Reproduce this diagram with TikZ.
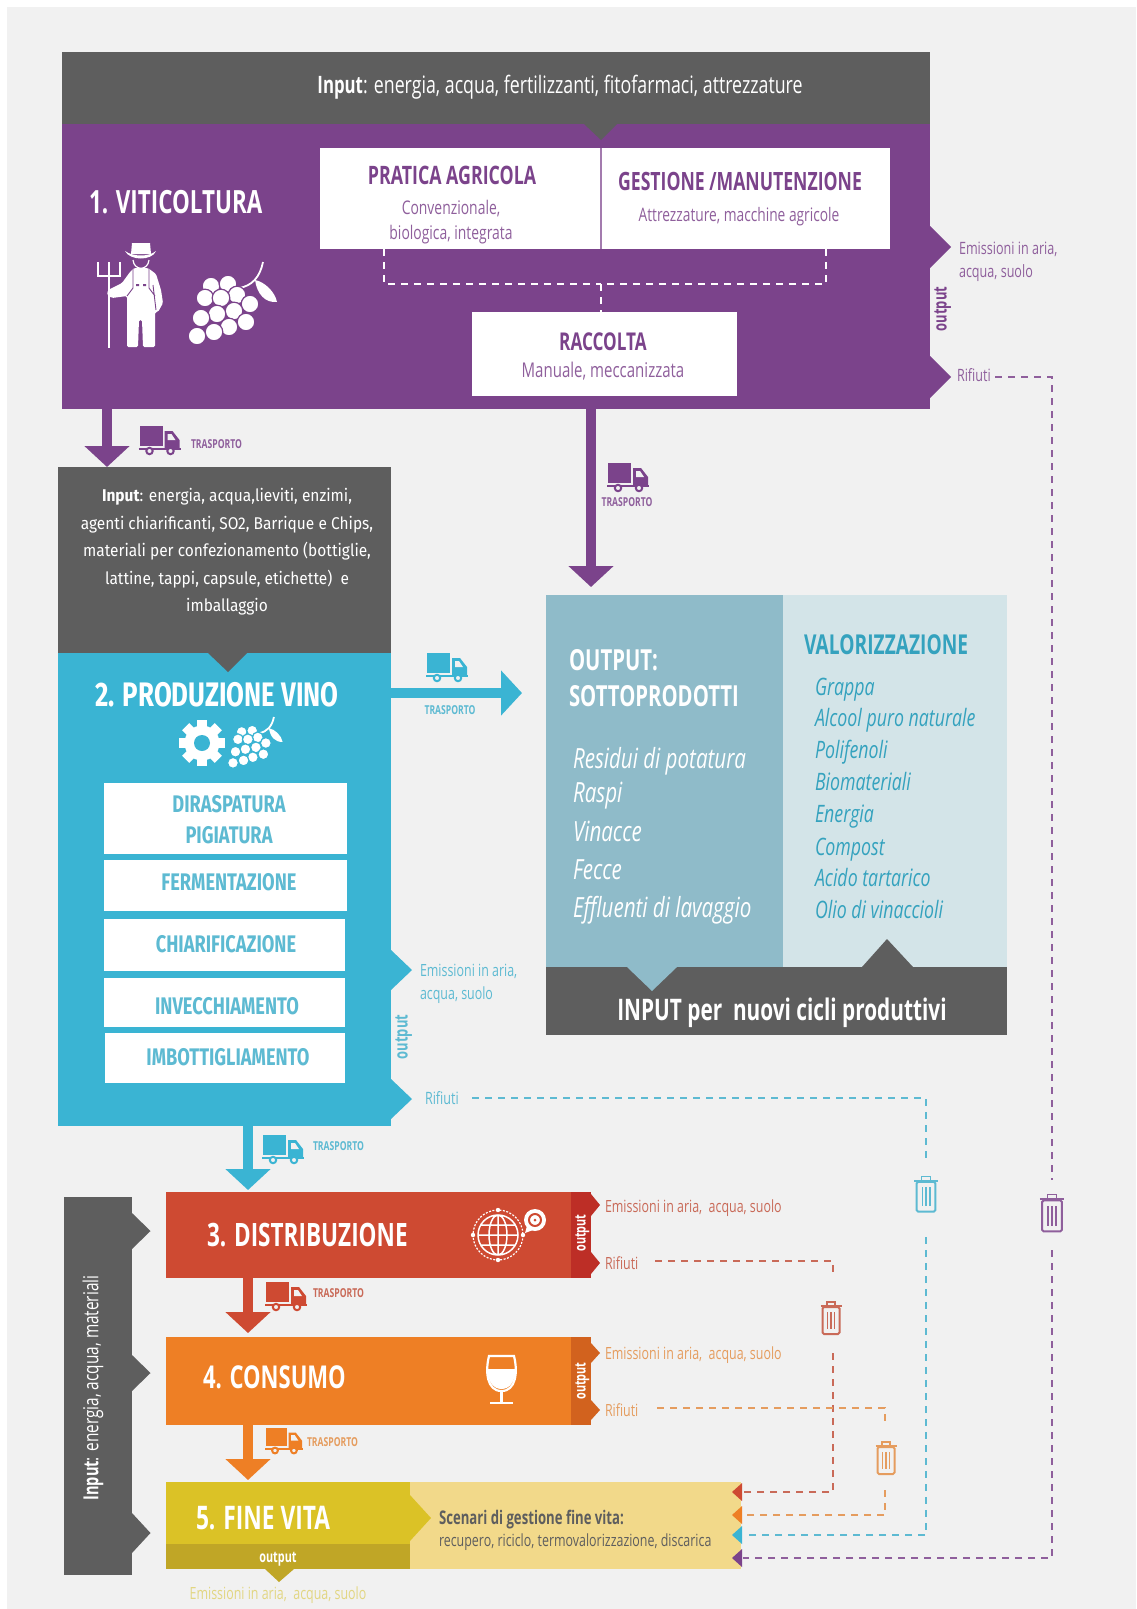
\documentclass[tikz,border=0pt]{standalone}
\usepackage{fontspec}
\usetikzlibrary{arrows.meta}
\setmainfont{Open Sans}[FakeStretch=0.74,BoldFeatures={FakeStretch=0.70}]
\newfontfamily\wfont{Fira Sans}[FakeStretch=0.91]
\newfontfamily\wfontt{Fira Sans}[FakeStretch=0.76]

% 颜色
\definecolor{bgC}{HTML}{F1F1F1}
\definecolor{grayC}{HTML}{5E5E5E}
\definecolor{purpleC}{HTML}{7B438B}
\definecolor{blueC}{HTML}{3AB4D3}
\definecolor{blueT}{HTML}{5DBAD2}
\definecolor{panelA}{HTML}{8FBBC9}
\definecolor{panelB}{HTML}{D3E4E8}
\definecolor{redC}{HTML}{CE4A32}
\definecolor{redD}{HTML}{BD2E26}
\definecolor{redT}{HTML}{C96A58}
\definecolor{oraC}{HTML}{EE7F25}
\definecolor{oraD}{HTML}{D2621E}
\definecolor{oraT}{HTML}{E59C5E}
\definecolor{yelC}{HTML}{DBC226}
\definecolor{yelD}{HTML}{C0A626}
\definecolor{yelL}{HTML}{F2D98A}
\definecolor{yelT}{HTML}{E2D682}

\tikzset{
	block/.style n args={3}{fill=#1,minimum width=#2pt,minimum height=#3pt,anchor=north west,inner sep=0pt,outer sep=0pt},
	lab/.style={inner sep=0pt,outer sep=0pt,anchor=center},
	labw/.style={inner sep=0pt,outer sep=0pt,anchor=west},
	fixh/.style={text height={0.714*#1pt},text depth=0pt},
	fs/.style={fixh=#1,font=\fontsize{#1}{#1}\selectfont},
	fsb/.style={fixh=#1,font=\bfseries\fontsize{#1}{#1}\selectfont},
	fsi/.style={fixh=#1,font=\itshape\fontsize{#1}{#1}\selectfont},
	fsw/.style={fixh=#1,font=\wfontt\bfseries\fontsize{#1}{#1}\selectfont},
	fatarrow/.style={line width=9.5pt,-{Triangle[width=44pt,length=21pt]}},
	wdash/.style={line width=1.3pt,dash pattern=on 7pt off 6pt},
	pics/truck/.style={code={
		\fill[#1] (0,0) rectangle (23,20);
		\fill[#1] (25,5) -- (33,5) -- (40,14) -- (40,22) -- (25,22) -- cycle;
		\fill[bgC] (28,8) -- (32,8) -- (36,14) -- (28,14) -- cycle;
		\draw[#1,line width=2pt] (-1,23) -- (41,23);
		\filldraw[fill=bgC,draw=#1,line width=2pt] (10,25) circle (3.2) (31,25) circle (3.2);
	}},
	pics/trash/.style={code={
		\draw[#1,line width=2pt,rounded corners=1.5pt] (-8.5,-11) rectangle (8.5,16);
		\draw[#1,line width=2pt] (-10.5,-12) -- (10.5,-12);
		\draw[#1,line width=1.5pt] (-4,-12) -- (-4,-16) -- (4,-16) -- (4,-12);
		\draw[#1,line width=1.3pt] (-3.5,-6) -- (-3.5,11) (0,-6) -- (0,11) (3.5,-6) -- (3.5,11);
	}},
	pics/grapes/.style 2 args={code={
		\draw[#1,line width=1.8pt] (42,26) .. controls (55,24) and (63,15) .. (66,0);
		\fill[#1] (58,18) .. controls (68,20) and (78,30) .. (80,40) .. controls (68,41) and (60,32) .. (58,18) -- cycle;
		\foreach \gx/\gy in {14/24,31/22,40/33,8/36,24/36,53/42,37/49,20/52,4/56,49/60,32/65,17/70,0/74}
			\filldraw[fill=#1,draw=#2,line width=1.2pt] (\gx,\gy) circle (8.8);
	}},
}

% 块右侧的尖角
\newcommand{\spike}[5]{\fill[#1] (#2,#3-#5) -- (#2+#4,#3) -- (#2,#3+#5) -- cycle;}

\begin{document}
\begin{tikzpicture}[x=1pt,y=-1pt]
	
	\useasboundingbox (0,0) rectangle (1136,1609);
	\fill[white] (0,0) rectangle (1136,1609);
	\fill[bgC] (7,7) rectangle (1136,1609); % 背景
	
	% 1. 紫色块
	\node[block={purpleC}{868}{285}] (viti) at (62,124) {};
	\node[block={grayC}{868}{72}] (inputA) at (62,52) {};
	\fill[grayC] (584,124) -- (601,140) -- (617,124) -- cycle;
	\spike{purpleC}{930}{247}{21}{21}
	\spike{purpleC}{930}{377}{21}{21}
	\node[lab,text=white] (inputAt) at (560,85) [fs=24] {\textbf{Input}: energia, acqua, fertilizzanti, fitofarmaci, attrezzature};
	\node[labw,text=white] (vitiT) at (89,202) [fsb=32] {1. VITICOLTURA};
	\node[block={white}{570}{101}] (pratica) at (320,148) {};
	\fill[purpleC!70!white] (600,148) rectangle (602,249);
	\node[block={white}{265}{84}] (raccolta) at (472,312) {};
	\node[lab,text=purpleC] (praticaT) at (452,175) [fsb=25.4] {PRATICA AGRICOLA};
	\node[lab,text=purpleC!85!white] (praticaA) at (451,208) [fs=18.8] {Convenzionale,};
	\node[lab,text=purpleC!85!white] (praticaB) at (451,233) [fs=18.8] {biologica, integrata};
	\node[lab,text=purpleC] (gestT) at (740,182) [fsb=25.2] {GESTIONE /MANUTENZIONE};
	\node[lab,text=purpleC!85!white] (gestA) at (739,215) [fs=18.6] {Attrezzature, macchine agricole};
	\node[lab,text=purpleC] (raccT) at (603,342) [fsb=24.5] {RACCOLTA};
	\node[lab,text=purpleC!85!white] (raccA) at (603,370) [fs=20.3] {Manuale, meccanizzata};
	\coordinate (prL) at (384,249);
	\coordinate (prR) at (826,249);
	\coordinate (prM) at (601,284);
	\draw[wdash,white,line width=1.2pt] (prL) |- (prM);
	\draw[wdash,white,line width=1.2pt] (prR) |- (prM);
	\draw[wdash,white,line width=1.2pt] (prM) -- (raccolta.north -| prM);
	\node[lab,rotate=90,text=purpleC] (outA) at (940,309) [fsb=18.5] {output};
	\node[labw,text=purpleC!85!white] (emiA) at (959,248) [fs=17] {Emissioni in aria,};
	\node[labw,text=purpleC!85!white] (emiAb) at (959,271) [fs=17] {acqua, suolo};
	\node[labw,text=purpleC!85!white] (rifA) at (957,375) [fs=17] {Rifiuti};
	
	% 农夫
	\fill[white] (132,243) -- (150,243) -- (151,254) -- (131,254) -- cycle;
	\fill[white] (125,251) .. controls (133,257) and (149,257) .. (156,251) .. controls (152,261) and (130,261) .. (125,251) -- cycle;
	\draw[white,line width=1.2pt] (133,260) .. controls (134,271) and (148,271) .. (149,260);
	\fill[white,rounded corners=1.5pt] (130,272) -- (134,268) -- (148,268) -- (156,274) -- (161,290) -- (163,303) -- (158,312) -- (155,312) -- (155,347) -- (143,347) -- (142,320) -- (139,320) -- (138,347) -- (127,347) -- (127,296) -- (112,298) -- (107,295) -- (108,290) -- (122,283) -- cycle;
	\draw[purpleC,line width=.9pt] (133,269) -- (133,288) -- (127,296) (149,269) -- (149,288) -- (155,296) (153,285) -- (156,310);
	\fill[purpleC] (136,284) rectangle (139,286) (143,284) rectangle (146,286);
	\draw[white,line width=1.4pt] (98,262) -- (98,276) -- (120,276) -- (120,262) (109,262) -- (109,348);
	\pic at (197,262) {grapes={white}{purpleC}};
	
	% 紫色箭头
	\coordinate (vitiA) at (107,409);
	\coordinate (prodA) at (107,467);
	\draw[fatarrow,purpleC] (vitiA) -- (prodA);
	\pic at (139.5,426) {truck=purpleC};
	\node[labw,text=purpleC!85!white] (trA) at (191,444) [fsb=12.3] {TRASPORTO};
	\coordinate (raccB) at (591,396);
	\coordinate (sottoB) at (591,587);
	\draw[fatarrow,purpleC] (raccB) -- (sottoB);
	\pic at (608,463) {truck=purpleC};
	\node[lab,text=purpleC!85!white] (trB) at (627,502) [fsb=12.3] {TRASPORTO};
	
	% 2. 蓝色块
	\node[block={blueC}{333}{473}] (prod) at (58,653) {};
	\node[block={grayC}{333}{186}] (inputB) at (58,467) {};
	\fill[grayC] (208,653) -- (228,672) -- (247,653) -- cycle;
	\spike{blueC}{391}{970}{21}{20}
	\spike{blueC}{391}{1099}{21}{20}
	\node[align=center,inner sep=0pt,text=white,font=\wfont\fontsize{17}{27.5}\selectfont] (inputBt) at (227,552) {\textbf{Input}: energia, acqua,lieviti, enzimi,\\agenti chiarificanti, SO2, Barrique e Chips,\\materiali per confezionamento (bottiglie,\\lattine, tappi, capsule, etichette) \ e\\imballaggio};
	\node[lab,text=white] (prodT) at (217,694) [fsw=34] {2. PRODUZIONE VINO};
	% 齿轮
	\foreach \ang in {0,45,...,315}
		\fill[white,rotate around={\ang:(202,743)}] (197,720) rectangle (207,730);
	\fill[white] (202,743) circle (17.5);
	\fill[blueC] (202,743) circle (8);
	\pic[scale=.62] at (233,717) {grapes={white}{blueC}};
	\node[block={white}{243}{71}] (bxA) at (104,783) {};
	\node[block={white}{243}{51}] (bxB) at (104,860) {};
	\node[block={white}{241}{52}] (bxC) at (104,919) {};
	\node[block={white}{241}{49}] (bxD) at (104,978) {};
	\node[block={white}{240}{50}] (bxE) at (105,1033) {};
	\node[lab,text=blueT] (bxAt) at (229,803.5) [fsw=24] {DIRASPATURA};
	\node[lab,text=blueT] (bxAb) at (229,835) [fsw=24] {PIGIATURA};
	\node[lab,text=blueT] (bxBt) at (229,882) [fsw=24] {FERMENTAZIONE};
	\node[lab,text=blueT] (bxCt) at (226,943.5) [fsw=24] {CHIARIFICAZIONE};
	\node[lab,text=blueT] (bxDt) at (227,1005.5) [fsw=24] {INVECCHIAMENTO};
	\node[lab,text=blueT] (bxEt) at (228,1057) [fsw=24] {IMBOTTIGLIAMENTO};
	\node[lab,rotate=90,text=blueT] (outB) at (401,1037) [fsb=18.5] {output};
	\node[labw,text=blueT] (emiB) at (420,970) [fs=16.8] {Emissioni in aria,};
	\node[labw,text=blueT] (emiBb) at (420,993) [fs=16.8] {acqua, suolo};
	\node[labw,text=blueT] (rifB) at (425,1098) [fs=17] {Rifiuti};
	
	% 蓝色箭头
	\coordinate (prodR) at (391,693);
	\coordinate (sottoL) at (522,693);
	\draw[fatarrow,blueC] (prodR) -- (sottoL);
	\pic at (427,653) {truck=blueC};
	\node[lab,text=blueT] (trC) at (450,710) [fsb=12.3] {TRASPORTO};
	\coordinate (prodB) at (248,1126);
	\coordinate (distA) at (248,1190);
	\draw[fatarrow,blueC] (prodB) -- (distA);
	\pic at (263,1135) {truck=blueC};
	\node[labw,text=blueT] (trD) at (313,1146) [fsb=12.3] {TRASPORTO};
	
	% 副产品
	\node[block={panelA}{237}{372}] (sotto) at (546,595) {};
	\node[block={panelB}{224}{372}] (valor) at (783,595) {};
	\node[block={grayC}{461}{68}] (inputC) at (546,967) {};
	\fill[panelA] (627,967) -- (652,991) -- (677,967) -- cycle;
	\fill[grayC] (862,967) -- (887,939) -- (913,967) -- cycle;
	\node[labw,text=white] (sottoA) at (569,660) [fsb=29] {OUTPUT:};
	\node[labw,text=white] (sottoT) at (569,696) [fsb=29] {SOTTOPRODOTTI};
	\foreach \i/\t/\y in {1/Residui di potatura/759,2/Raspi/793,3/Vinacce/832,4/Fecce/870,5/Effluenti di lavaggio/908}
		\node[labw,text=white] (sotto\i) at (573,\y) [fsi=27.8] {\t};
	\node[labw,text=blueC!90!black] (valorT) at (804,645) [fsb=27.4] {VALORIZZAZIONE};
	\foreach \i/\t/\y in {1/Grappa/687,2/Alcool puro naturale/718,3/Polifenoli/750,4/Biomateriali/782,5/Energia/814,6/Compost/847,7/Acido tartarico/878,8/Olio di vinaccioli/910}
		\node[labw,text=blueC!90!black] (valor\i) at (815,\y) [fsi=24] {\t};
	\node[lab,text=white] (inputCt) at (782,1010) [fsb=29.7] {INPUT per \ nuovi cicli produttivi};
	
	% 左侧输入
	\node[block={grayC}{68}{378}] (inputD) at (64,1197) {};
	\spike{grayC}{132}{1231}{18.5}{18}
	\spike{grayC}{132}{1373}{18.5}{18}
	\spike{grayC}{132}{1533}{18.5}{20}
	\node[lab,rotate=90,text=white] (inputDt) at (91,1388) [fs=20.8] {\textbf{Input}: energia, acqua, materiali};
	
	% 3. 4. 5.
	\node[block={redC}{405}{86}] (dist) at (166,1192) {};
	\node[block={redD}{20}{86}] (distO) at (571,1192) {};
	\spike{redD}{591}{1205}{9}{11}
	\spike{redD}{591}{1263}{9}{11}
	\node[block={oraC}{405}{88}] (cons) at (166,1337) {};
	\node[block={oraD}{20}{88}] (consO) at (571,1337) {};
	\spike{oraD}{591}{1353}{9}{10}
	\spike{oraD}{591}{1410}{9}{10}
	\node[block={yelC}{244}{87}] (fine) at (166,1482) {};
	\node[block={yelD}{244}{25}] (fineO) at (166,1544) {};
	\node[block={yelL}{331}{87}] (fineS) at (410,1482) {};
	\spike{yelC}{410}{1518}{21}{23}
	\fill[yelD] (265,1569) -- (279,1582) -- (294,1569) -- cycle;
	\node[labw,text=white] (distT) at (207,1235) [fsb=32.2] {3. DISTRIBUZIONE};
	\node[labw,text=white] (consT) at (203,1377) [fsb=31.5] {4. CONSUMO};
	\node[labw,text=white] (fineT) at (196,1518) [fsb=32.5] {5. FINE VITA};
	\node[lab,rotate=90,text=white] (outC) at (580,1233) [fsb=15.5] {output};
	\node[lab,rotate=90,text=white] (outD) at (580,1381) [fsb=15.5] {output};
	\node[lab,text=white] (outE) at (278,1557) [fsb=15.5] {output};
	\node[labw,text=redT] (emiC) at (605,1206) [fs=16.8] {Emissioni in aria, \ acqua, suolo};
	\node[labw,text=redT] (rifC) at (605,1263) [fs=16.8] {Rifiuti};
	\node[labw,text=oraT] (emiD) at (605,1353) [fs=16.8] {Emissioni in aria, \ acqua, suolo};
	\node[labw,text=oraT] (rifD) at (605,1410) [fs=16.8] {Rifiuti};
	\node[lab,text=yelT] (emiE) at (278,1593) [fs=16.8] {Emissioni in aria, \ acqua, suolo};
	\node[labw,text=grayC] (scenA) at (439,1518) [fsb=18.8] {Scenari di gestione fine vita:};
	\node[labw,text=grayC] (scenB) at (439,1540) [fs=16.8] {recupero, riciclo, termovalorizzazione, discarica};
	
	% 红色、橙色箭头
	\coordinate (distB) at (248,1278);
	\coordinate (consA) at (248,1333);
	\draw[fatarrow,redC] (distB) -- (consA);
	\pic at (266,1282) {truck=redC};
	\node[labw,text=redT] (trE) at (313,1293) [fsb=12.3] {TRASPORTO};
	\coordinate (consB) at (248,1425);
	\coordinate (fineA) at (248,1480);
	\draw[fatarrow,oraC] (consB) -- (fineA);
	\pic[scale=.9] at (266,1428) {truck=oraC};
	\node[labw,text=oraT] (trF) at (307,1442) [fsb=12.3] {TRASPORTO};
	
	% 图标:地球、酒杯
	\draw[white,line width=1.2pt,dash pattern=on 2pt off 1.5pt] (498,1235) circle (25);
	\fill[white] (498,1210) circle (2.2) (498,1260) circle (2.2) (473,1235) circle (2.2) (523,1235) circle (2.2);
	\draw[white,line width=1.5pt] (498,1235) circle (20) (498,1235) ellipse (9 and 20) (498,1215) -- (498,1255) (478,1235) -- (518,1235) (481,1225) -- (515,1225) (481,1245) -- (515,1245);
	\fill[white] (535,1220) circle (11);
	\fill[white] (527,1226) -- (525,1233) -- (533,1230) -- cycle;
	\draw[redC,line width=2pt] (535,1220) circle (6);
	\fill[redC] (535,1220) circle (1.5);
	\draw[white,line width=2.2pt] (489,1356) -- (514,1356) .. controls (518,1372) and (516,1391) .. (501.5,1391) .. controls (487,1391) and (485,1372) .. (489,1356) -- cycle;
	\fill[white] (487.5,1369) -- (515.5,1369) .. controls (515.5,1381) and (510,1389) .. (501.5,1389) .. controls (493,1389) and (487.5,1381) .. (487.5,1369) -- cycle;
	\draw[white,line width=2.2pt] (501.5,1391) -- (501.5,1403) (490,1403) -- (513,1403);
	
	% 废弃物虚线
	\coordinate (rifAs) at (995,377);
	\coordinate (trashAin) at (1052,1180);
	\coordinate (trashAout) at (1052,1250);
	\coordinate (rifBs) at (472,1098);
	\coordinate (trashBin) at (926,1162);
	\coordinate (trashBout) at (926,1237);
	\coordinate (rifCs) at (655,1261);
	\coordinate (trashCin) at (833,1278);
	\coordinate (trashCout) at (833,1353);
	\coordinate (rifDs) at (657,1408);
	\coordinate (trashDin) at (885,1425);
	\coordinate (trashDout) at (885,1490);
	\foreach \n/\c/\y in {C/redC/1492,D/oraC/1515,B/blueC/1535,A/purpleC/1558}{
		\coordinate (end\n) at (743,\y);
		\fill[\c] (742,\y-9) -- (732,\y) -- (742,\y+9) -- cycle;
	}
	\draw[wdash,purpleC!85!white] (rifAs) -| (trashAin);
	\draw[wdash,purpleC!85!white] (trashAout) |- (endA);
	\draw[wdash,blueT] (rifBs) -| (trashBin);
	\draw[wdash,blueT] (trashBout) |- (endB);
	\draw[wdash,redT] (rifCs) -| (trashCin);
	\draw[wdash,redT] (trashCout) |- (endC);
	\draw[wdash,oraT] (rifDs) -| (trashDin);
	\draw[wdash,oraT] (trashDout) |- (endD);
	\pic[scale=1.15] at (1052,1213) {trash=purpleC!85!white};
	\pic[scale=1.1] at (926,1194) {trash=blueT};
	\pic at (831,1318) {trash=redT};
	\pic at (886,1458) {trash=oraT};
	
\end{tikzpicture}
\end{document}
